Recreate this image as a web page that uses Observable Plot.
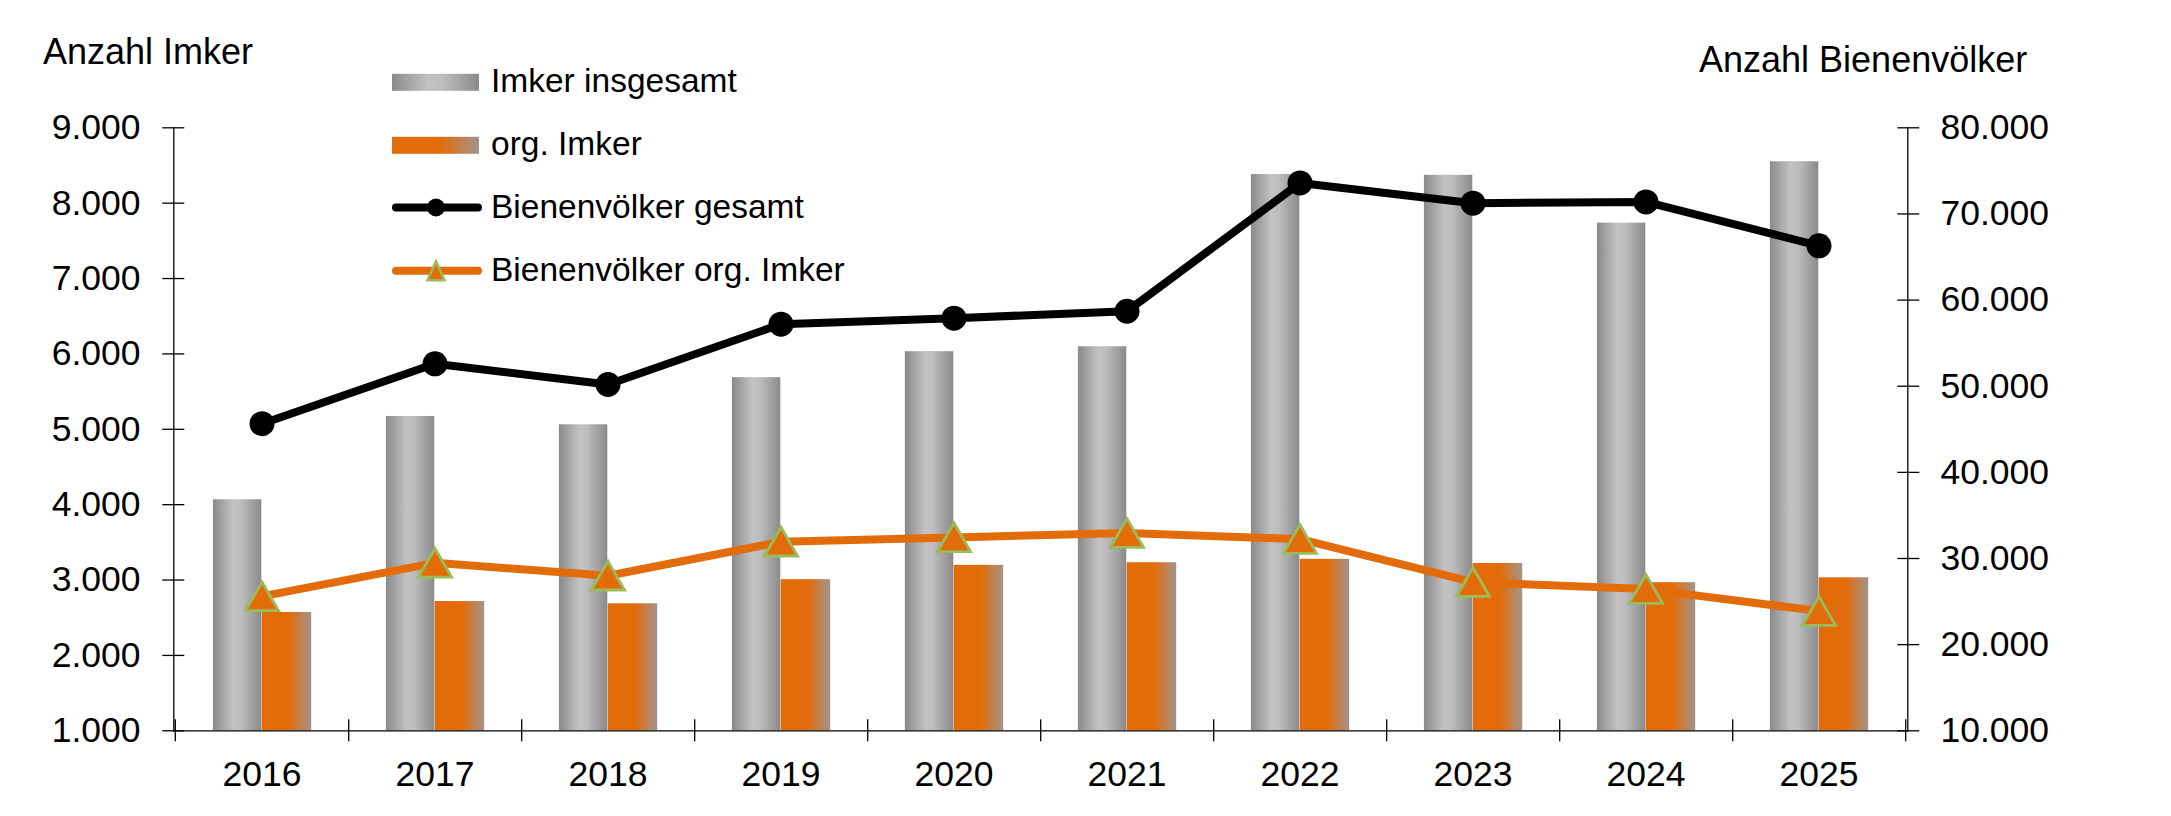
<!DOCTYPE html>
<html>
<head>
<meta charset="utf-8">
<script src="https://cdn.jsdelivr.net/npm/d3@7"></script>
<script src="https://cdn.jsdelivr.net/npm/@observablehq/plot@0.6"></script>
<style>
  html, body { margin: 0; padding: 0; background: #fff; }
  #chart { position: relative; width: 2171px; height: 816px; font-family: "Liberation Sans", Arial, sans-serif; }
  #chart > svg { position: absolute; left: 0; top: 0; }
</style>
</head>
<body>
<div id="chart"></div>
<script>
// Beekeepers (left axis) and bee colonies (right axis), 2016–2025
const years = ["2016", "2017", "2018", "2019", "2020", "2021", "2022", "2023", "2024", "2025"];
const imkerGesamt = [4065, 5170, 5060, 5685, 6030, 6095, 8380, 8370, 7735, 8550];
const imkerOrg = [2570, 2715, 2685, 3005, 3195, 3230, 3275, 3220, 2965, 3030];
const voelkerGesamt = [45650, 52600, 50200, 57200, 57900, 58700, 73600, 71250, 71400, 66300];
const voelkerOrg = [25600, 29500, 28000, 31950, 32450, 32950, 32250, 27250, 26450, 23900];

const leftDomain = [1000, 9000];
const rightDomain = [10000, 80000];
const leftTicks = [1000, 2000, 3000, 4000, 5000, 6000, 7000, 8000, 9000];
const rightTicks = [10000, 20000, 30000, 40000, 50000, 60000, 70000, 80000];

const leftTitle = "Anzahl Imker";
const rightTitle = "Anzahl Bienenvölker";
const legendLabels = ["Imker insgesamt", "org. Imker", "Bienenvölker gesamt", "Bienenvölker org. Imker"];

// Layout and colours
const W = 2171, H = 816;
const M = {top: 127.3, right: 263.7, bottom: 85.7, left: 173.3};
const bw = (W - M.left - M.right) / years.length;
const ORANGE = "#E36C0A";
const GREEN = "#9BBB59";
const FONT = "Liberation Sans, Arial, sans-serif";
const AXIS_FS = 35.5;

const fmt = d3.formatLocale({decimal: ",", thousands: ".", grouping: [3], currency: ["", "€"]}).format(",d");
const rows = years.map((year, i) => ({
  year, gesamt: imkerGesamt[i], org: imkerOrg[i], vG: voelkerGesamt[i], vO: voelkerOrg[i]
}));

const common = {
  width: W, height: H,
  marginTop: M.top, marginRight: M.right, marginBottom: M.bottom, marginLeft: M.left,
  style: {fontSize: AXIS_FS + "px", fontFamily: FONT, background: "transparent", color: "#000", overflow: "visible"}
};

function addGradients(svg, prefix) {
  const defs = d3.select(svg).insert("defs", ":first-child");
  const g = defs.append("linearGradient").attr("id", prefix + "grey").attr("x1", 0).attr("x2", 1).attr("y1", 0).attr("y2", 0);
  [[0, "#8a8a8a"], [0.42, "#c2c2c2"], [0.58, "#bdbdbd"], [1, "#8a8a8a"]]
    .forEach(([o, c]) => g.append("stop").attr("offset", o).attr("stop-color", c));
  const o = defs.append("linearGradient").attr("id", prefix + "orange").attr("x1", 0).attr("x2", 1).attr("y1", 0).attr("y2", 0);
  [[0, ORANGE], [0.55, ORANGE], [1, "#a3938c"]]
    .forEach(([off, c]) => o.append("stop").attr("offset", off).attr("stop-color", c));
}

// Layer 1: bars on the left scale, left axis, category axis
const barsPlot = Plot.plot({
  ...common,
  x: {type: "band", domain: years, padding: 0, label: null},
  y: {domain: leftDomain, label: null},
  marks: [
    Plot.barY(rows, {x: "year", y1: leftDomain[0], y2: "gesamt", fill: "url(#b-grey)", insetLeft: 37.9, insetRight: bw / 2}),
    Plot.barY(rows, {x: "year", y1: leftDomain[0], y2: "org", fill: "url(#b-orange)", insetLeft: bw / 2, insetRight: 36.8}),
    Plot.frame({anchor: "left", strokeWidth: 1.3}),
    Plot.frame({anchor: "bottom", strokeWidth: 1.3}),
    Plot.axisY(leftTicks, {anchor: "left", tickSize: 22, dx: 11, strokeWidth: 1.3, tickFormat: () => ""}),
    Plot.axisY(leftTicks, {anchor: "left", tickSize: 0, tickPadding: 33.3, tickFormat: fmt, fontSize: AXIS_FS}),
    Plot.axisX(years, {anchor: "bottom", tickSize: 0, tickPadding: 29.5, fontSize: AXIS_FS, tickFormat: d => d}),
    Plot.axisX(years, {anchor: "bottom", tickSize: 22, dy: -11, dx: bw / 2, strokeWidth: 1.3, tickFormat: () => ""}),
    Plot.axisX([years[0]], {anchor: "bottom", tickSize: 22, dy: -11, dx: -bw / 2, strokeWidth: 1.3, tickFormat: () => ""})
  ]
});
addGradients(barsPlot, "b-");

// Layer 2: colony lines on the right scale, right axis
const linesPlot = Plot.plot({
  ...common,
  x: {type: "band", domain: years, padding: 0, axis: null, label: null},
  y: {domain: rightDomain, label: null},
  marks: [
    Plot.frame({anchor: "right", strokeWidth: 1.3}),
    Plot.axisY(rightTicks, {anchor: "right", tickSize: 22, dx: -11, strokeWidth: 1.3, tickFormat: () => ""}),
    Plot.axisY(rightTicks, {anchor: "right", tickSize: 0, tickPadding: 32.7, tickFormat: fmt, fontSize: AXIS_FS}),
    Plot.line(rows, {x: "year", y: "vO", stroke: ORANGE, strokeWidth: 8, strokeLinejoin: "round"}),
    Plot.dot(rows, {x: "year", y: "vO", symbol: "triangle", r: 12.3, dy: 4.7, fill: ORANGE, stroke: GREEN, strokeWidth: 2.8}),
    Plot.line(rows, {x: "year", y: "vG", stroke: "#000", strokeWidth: 8, strokeLinejoin: "round"}),
    Plot.dot(rows, {x: "year", y: "vG", r: 12.5, fill: "#000", stroke: "none"})
  ]
});

// Layer 3: axis titles and legend
const deco = d3.create("svg").attr("width", W).attr("height", H)
  .attr("font-family", FONT).style("overflow", "visible");
addGradients(deco.node(), "l-");

deco.append("text").attr("x", 43).attr("y", 64).attr("font-size", 36).text(leftTitle);
deco.append("text").attr("x", 1699).attr("y", 71.7).attr("font-size", 36).text(rightTitle);

const LX = 392, LW = 87, TX = 491, rowY = [82.3, 145.3, 207.5, 270.7];
const legend = deco.append("g").attr("font-size", 33.5);
legend.append("rect").attr("x", LX).attr("y", rowY[0] - 8.5).attr("width", LW).attr("height", 17).attr("fill", "url(#l-grey)");
legend.append("rect").attr("x", LX).attr("y", rowY[1] - 8.5).attr("width", LW).attr("height", 17).attr("fill", "url(#l-orange)");
legend.append("line").attr("x1", LX + 4).attr("x2", LX + 86).attr("y1", rowY[2]).attr("y2", rowY[2])
  .attr("stroke", "#000").attr("stroke-width", 8).attr("stroke-linecap", "round");
legend.append("circle").attr("cx", 436).attr("cy", rowY[2]).attr("r", 9).attr("fill", "#000");
legend.append("line").attr("x1", LX + 4).attr("x2", LX + 86).attr("y1", rowY[3]).attr("y2", rowY[3])
  .attr("stroke", ORANGE).attr("stroke-width", 8).attr("stroke-linecap", "round");
legend.append("path").attr("transform", `translate(436,${rowY[3]})`)
  .attr("d", "M0,-9.5L-8.5,9.5L8.5,9.5Z").attr("fill", ORANGE).attr("stroke", GREEN).attr("stroke-width", 2.5);
legendLabels.forEach((t, i) => {
  legend.append("text").attr("x", TX).attr("y", rowY[i] + 10).text(t);
});

const chart = document.getElementById("chart");
chart.append(barsPlot, linesPlot, deco.node());
</script>
</body>
</html>
